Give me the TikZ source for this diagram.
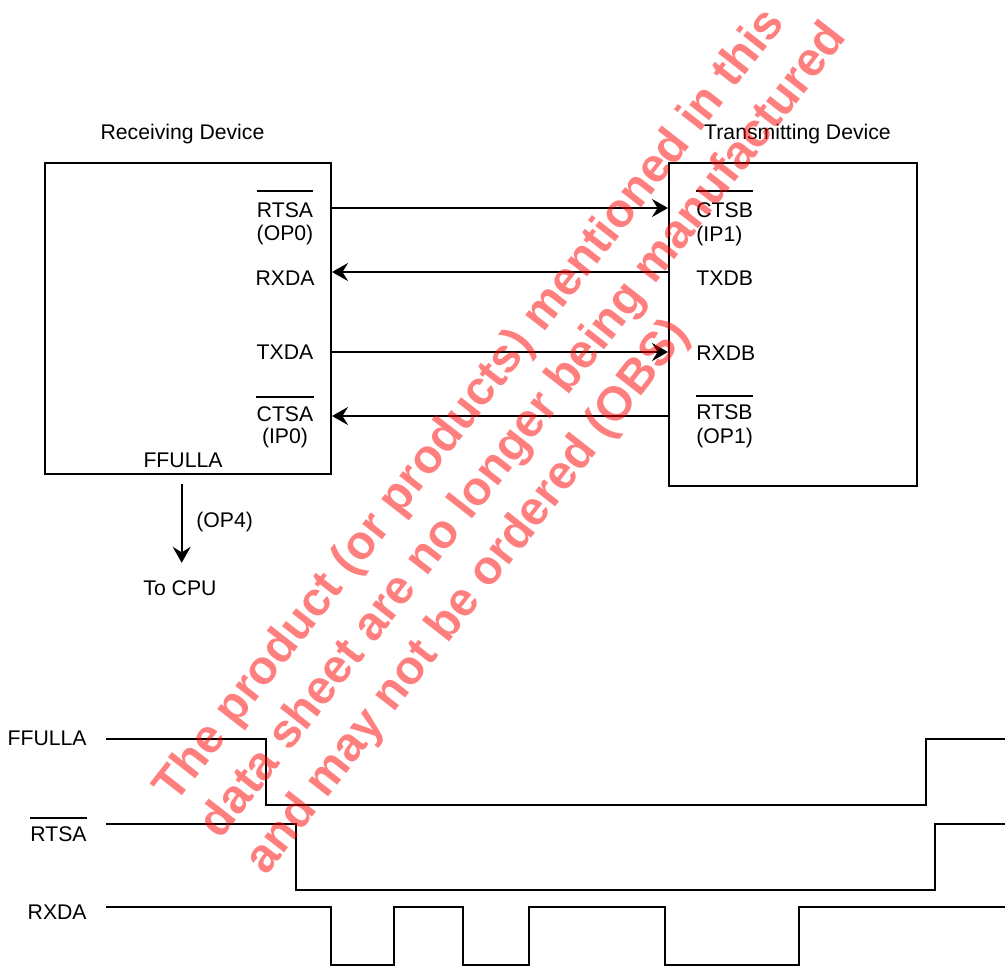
\documentclass[tikz,border=0pt]{standalone}
\usepackage{fontspec}
\setmainfont{Liberation Sans}
\usetikzlibrary{arrows.meta, positioning}
\definecolor{marcaRoja}{HTML}{FF0000}

\begin{document}
\begin{tikzpicture}[x=0.5pt, y=-0.5pt, font=\fontsize{10.6}{12.7}\selectfont,
        >={Stealth[length=8pt, width=9pt, inset=2.8pt]},
        dev/.style={draw, line width=1pt, inner sep=0},
        lbl/.style={inner sep=0, anchor=base},
        lblw/.style={inner sep=0, anchor=base west},
        lble/.style={inner sep=0, anchor=base east},
        sg/.style={->, line width=1pt},
        ovl/.style={line width=1pt},
        wave/.style={line width=1pt},
        wm/.style={inner sep=0, anchor=base west, rotate=52, text=marcaRoja, opacity=0.5,
            font=\fontsize{23.8}{28}\selectfont\bfseries}]
        \useasboundingbox (0,0) rectangle (1005,966);
        \node[dev, minimum width=143pt, minimum height=155.5pt] (rx) at (188,318.5) {};
        \node[dev, minimum width=124pt, minimum height=161.5pt] (tx) at (793,324.5) {};
        \node[lbl] (rxt) at (182.5,139) {Receiving Device};
        \node[lbl] (txt) at (797.5,139) {Transmitting Device};
        \node[lbl] (rtsa) at (285,217) {RTSA};
        \node[lbl] (op0) at (285,240) {(OP0)};
        \node[lbl] (rxda) at (285,285) {RXDA};
        \node[lbl] (txda) at (285,359) {TXDA};
        \node[lbl] (ctsa) at (285,421) {CTSA};
        \node[lbl] (ip0) at (285,443.5) {(IP0)};
        \node[lbl] (ffa) at (183,467) {FFULLA};
        \node[lblw] (ctsb) at (696,217) {CTSB};
        \node[lblw] (ip1) at (696,241.5) {(IP1)};
        \node[lblw] (txdb) at (696,285.5) {TXDB};
        \node[lblw] (rxdb) at (696,360) {RXDB};
        \node[lblw] (rtsb) at (696,419.5) {RTSB};
        \node[lblw] (op1) at (696,443) {(OP1)};
        \node[lblw] (op4) at (196,527) {(OP4)};
        \node[lbl] (cpu) at (180,595) {To CPU};
        \draw[ovl] ([yshift=5.3pt]rtsa.north west) -- ([yshift=5.3pt]rtsa.north east);
        \draw[ovl] ([yshift=4.3pt]ctsa.north west) -- ([yshift=4.3pt]ctsa.north east);
        \draw[ovl] ([yshift=5.3pt]ctsb.north west) -- ([yshift=5.3pt]ctsb.north east);
        \draw[ovl] ([yshift=4.3pt]rtsb.north west) -- ([yshift=4.3pt]rtsb.north east);
        \draw[sg] (rx.east |- 0,208) -- (tx.west |- 0,208);
        \draw[sg] (tx.west |- 0,272) -- (rx.east |- 0,272);
        \draw[sg] (rx.east |- 0,352) -- (tx.west |- 0,352);
        \draw[sg] (tx.west |- 0,416) -- (rx.east |- 0,416);
        \draw[sg] ([yshift=-4.5pt]rx.south -| 181.7,0) -- ([yshift=8.5pt]cpu.north -| 181.7,0);
        \node[lble] (tffa) at (87,745) {FFULLA};
        \node[lble] (trts) at (87,841.5) {RTSA};
        \node[lble] (trxd) at (87,919.5) {RXDA};
        \draw[ovl] ([yshift=4pt]trts.north west) -- ([yshift=4pt]trts.north east);
        \draw[wave] (106,739) -- (266,739) -- (266,805) -- (926,805) -- (926,739) -- (1005,739);
        \draw[wave] (106,824) -- (296,824) -- (296,890) -- (935,890) -- (935,824) -- (1005,824);
        \draw[wave] (106,907) -- (331,907) -- (331,965) -- (394,965) -- (394,907) -- (463,907)
            -- (463,965) -- (529,965) -- (529,907) -- (665,907) -- (665,965) -- (799,965)
            -- (799,907) -- (1005,907);
        \node[wm] (wm1) at (175,805) {The product (or products) mentioned in this};
        \node[wm] (wm2) at (220.7,840.7) {data sheet are no longer being manufactured};
        \node[wm] (wm3) at (266.4,876.4) {and may not be ordered (OBS)};
    \end{tikzpicture}
\end{document}
